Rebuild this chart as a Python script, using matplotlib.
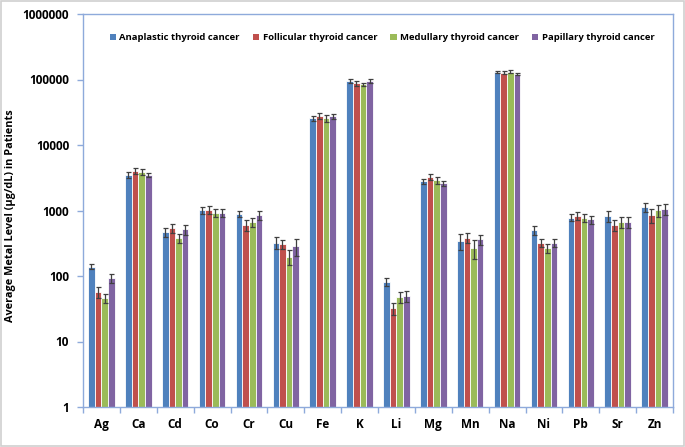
import numpy as np
import matplotlib.pyplot as plt
from matplotlib.patches import Rectangle, Patch
from matplotlib.ticker import FixedLocator, NullFormatter

# data (ug/dL)
metals = ["Ag", "Ca", "Cd", "Co", "Cr", "Cu", "Fe", "K", "Li", "Mg", "Mn", "Na", "Ni", "Pb", "Sr", "Zn"]
series = ["Anaplastic thyroid cancer", "Follicular thyroid cancer",
          "Medullary thyroid cancer", "Papillary thyroid cancer"]

anaplastic = [139, 3480, 465, 1018, 885, 322, 25600, 95900, 82, 2820, 342, 131500, 504, 776, 824, 1118]
follicular = [57.5, 4050, 535, 1018, 601, 305, 28000, 87400, 32, 3290, 385, 127000, 323, 833, 601, 853]
medullary = [45.6, 3900, 376, 927, 661, 197, 25600, 84500, 48, 2920, 270, 131500, 264, 776, 661, 1018]
papillary = [92, 3500, 516, 927, 853, 287, 27700, 95900, 49.5, 2600, 363, 121000, 323, 733, 661, 1055]

anaplastic_sd = [13, 380, 75, 130, 100, 68, 2300, 6000, 12, 250, 90, 5000, 75, 95, 160, 170]
follicular_sd = [11, 430, 80, 140, 110, 45, 2800, 7000, 7, 350, 65, 7000, 50, 110, 115, 200]
medullary_sd = [7, 400, 60, 140, 100, 52, 2800, 5000, 9, 350, 90, 6000, 40, 110, 125, 210]
papillary_sd = [14, 300, 90, 140, 140, 83, 2500, 6000, 9, 230, 65, 5000, 50, 100, 125, 200]

values = [anaplastic, follicular, medullary, papillary]
errors = [anaplastic_sd, follicular_sd, medullary_sd, papillary_sd]
colors = ["#4F81BD", "#C0504D", "#9BBB59", "#8064A2"]

FONT = "Open Sans"
axis_col = "#8EAADB"

fig = plt.figure(figsize=(6.85, 4.47), dpi=100)
fig.patches.append(Rectangle((0.002, 0.003), 0.996, 0.994, transform=fig.transFigure,
                             fill=False, edgecolor="#D0D0D0", linewidth=1.2))
ax = fig.add_axes([83 / 685, 40 / 447, 590 / 685, 393 / 447])

x = np.arange(len(metals))
pitch = 0.18
for i in range(4):
    ax.bar(x + (i - 1.5) * pitch, values[i], width=pitch, color=colors[i],
           edgecolor="white", linewidth=0.6, label=series[i],
           yerr=errors[i], error_kw=dict(ecolor="#404040", elinewidth=0.9, capsize=1.8, capthick=0.9))

ax.set_yscale("log")
ax.set_ylim(1, 1e6)
ax.set_xlim(-0.5, len(metals) - 0.5)
ax.set_yticks([1, 10, 100, 1000, 10000, 100000, 1000000])
ax.set_yticklabels(["1", "10", "100", "1000", "10000", "100000", "1000000"])
ax.yaxis.set_minor_locator(FixedLocator([]))
ax.set_xticks(x)
ax.set_xticklabels(metals)
ax.xaxis.set_minor_locator(FixedLocator(np.arange(-0.5, len(metals), 1.0)))
ax.xaxis.set_minor_formatter(NullFormatter())
ax.tick_params(axis="x", which="major", length=0, pad=8)
ax.tick_params(axis="x", which="minor", length=4, color=axis_col, width=1)
ax.tick_params(axis="y", which="major", length=4, color=axis_col, width=1, pad=6)

for lab in ax.get_xticklabels() + ax.get_yticklabels():
    lab.set_fontfamily(FONT)
    lab.set_fontweight("bold")
    lab.set_fontsize(8.5)
    lab.set_color("black")

for sp in ax.spines.values():
    sp.set_color(axis_col)
    sp.set_linewidth(1.0)

fig.text(11 / 685, 1 - 216 / 447, "Average Metal Level (µg/dL) in Patients", rotation=90,
         ha="center", va="center", fontfamily=FONT, fontweight="bold", fontsize=7.8)

handles = [Patch(facecolor=c, edgecolor="none") for c in colors]
ax.legend(handles, series, loc="center", bbox_to_anchor=(0.507, 0.94), ncol=4,
          frameon=False, handlelength=0.65, handleheight=0.65, handletextpad=0.35,
          columnspacing=1.4, borderpad=0, prop=dict(family=FONT, weight="bold", size=6.8))

fig.savefig("out.png", dpi=100)
